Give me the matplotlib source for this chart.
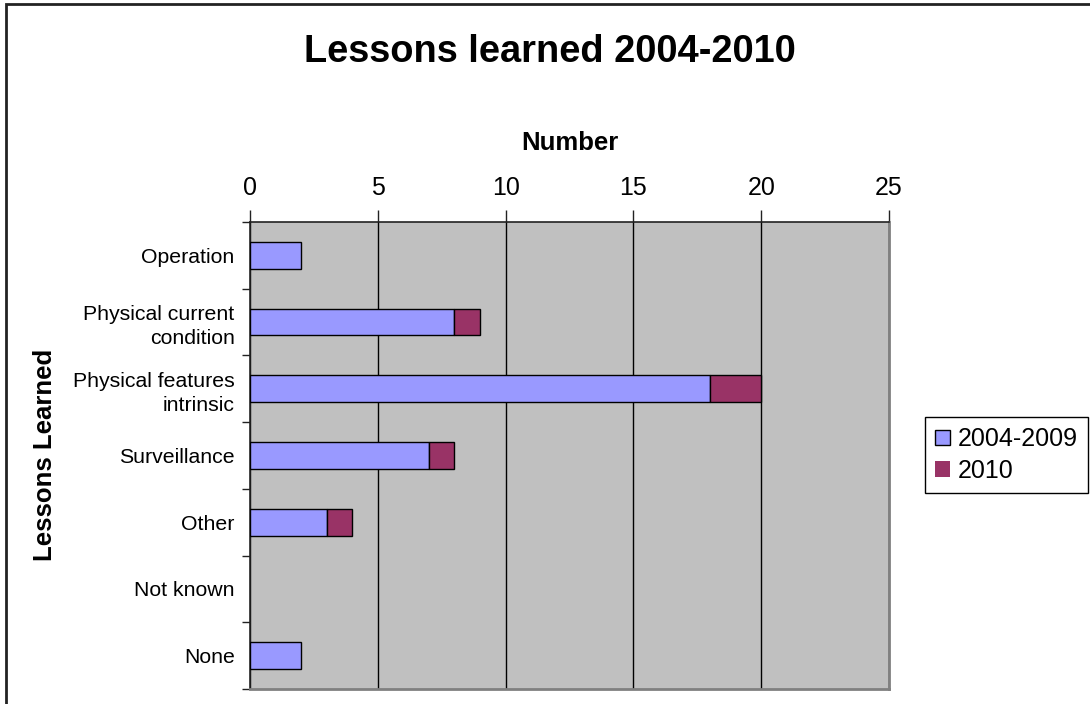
import numpy as np
import matplotlib.pyplot as plt
from matplotlib.patches import Rectangle

plt.rcParams['font.family'] = ['Liberation Sans', 'DejaVu Sans']

categories = ['Operation', 'Physical current\ncondition', 'Physical features\nintrinsic',
              'Surveillance', 'Other', 'Not known', 'None']
vals_2004_2009 = [2, 8, 18, 7, 3, 0, 2]
vals_2010 = [0, 1, 2, 1, 1, 0, 0]
x_ticks = [0, 5, 10, 15, 20, 25]

fig = plt.figure(figsize=(10.9, 7.04), dpi=100)
ax = fig.add_axes([250 / 1090, 1 - 689 / 704, 639 / 1090, 467 / 704])

# outer chart border (only left and top visible)
fig.patches.append(Rectangle((6 / 1090, -0.1), 1.2, 0.1 + (704 - 4) / 704,
                             transform=fig.transFigure, fill=False,
                             edgecolor='#222222', linewidth=2))

y = np.arange(len(categories))
ax.set_facecolor('#C0C0C0')
# hide outlines of empty segments
lw_a = [1 if v > 0 else 0 for v in vals_2004_2009]
lw_b = [1 if v > 0 else 0 for v in vals_2010]
ax.barh(y, vals_2004_2009, height=0.4, color='#9999FF', edgecolor='black',
        linewidth=lw_a, label='2004-2009', zorder=3)
ax.barh(y, vals_2010, left=vals_2004_2009, height=0.4, color='#993366',
        edgecolor='black', linewidth=lw_b, label='2010', zorder=3)

ax.set_xlim(0, 25)
ax.set_ylim(len(categories) - 0.5, -0.5)
ax.xaxis.tick_top()
ax.xaxis.set_label_position('top')
ax.set_xticks(x_ticks)
ax.set_xticklabels([str(t) for t in x_ticks], fontsize=18)
ax.tick_params(axis='x', direction='out', length=9, width=1, pad=7, color='#222222')
ax.grid(axis='x', color='black', linewidth=1, zorder=1)

ax.set_yticks(y)
ax.set_yticklabels(categories, fontsize=15.3, ha='right', linespacing=1.35)
ax.set_yticks(np.arange(-0.5, len(categories)), minor=True)
ax.tick_params(axis='y', which='major', length=0, pad=11)
ax.tick_params(axis='y', which='minor', direction='out', length=6, width=1, color='#222222')

for s in ['right', 'bottom']:
    ax.spines[s].set_color('#808080')
    ax.spines[s].set_linewidth(2)
for s in ['left', 'top']:
    ax.spines[s].set_color('#222222')
    ax.spines[s].set_linewidth(1.2)

ax.set_xlabel('Number', fontsize=18.5, fontweight='bold', labelpad=18.5)
fig.text(45 / 1090, 1 - 455 / 704, 'Lessons Learned', rotation=90, fontsize=18.5,
         fontweight='bold', ha='center', va='center')
fig.text(550 / 1090, 1 - 52 / 704, 'Lessons learned 2004-2010', fontsize=27.4,
         fontweight='bold', ha='center', va='center')

leg = ax.legend(loc='center left', bbox_to_anchor=(925 / 1090, 1 - 455 / 704),
                bbox_transform=fig.transFigure, fontsize=18, frameon=True,
                fancybox=False, edgecolor='black', framealpha=1,
                handlelength=0.6, handleheight=0.6, handletextpad=0.3,
                borderpad=0.4, labelspacing=0.3, borderaxespad=0)
leg.get_frame().set_linewidth(1)

fig.savefig('out.png', dpi=100)
